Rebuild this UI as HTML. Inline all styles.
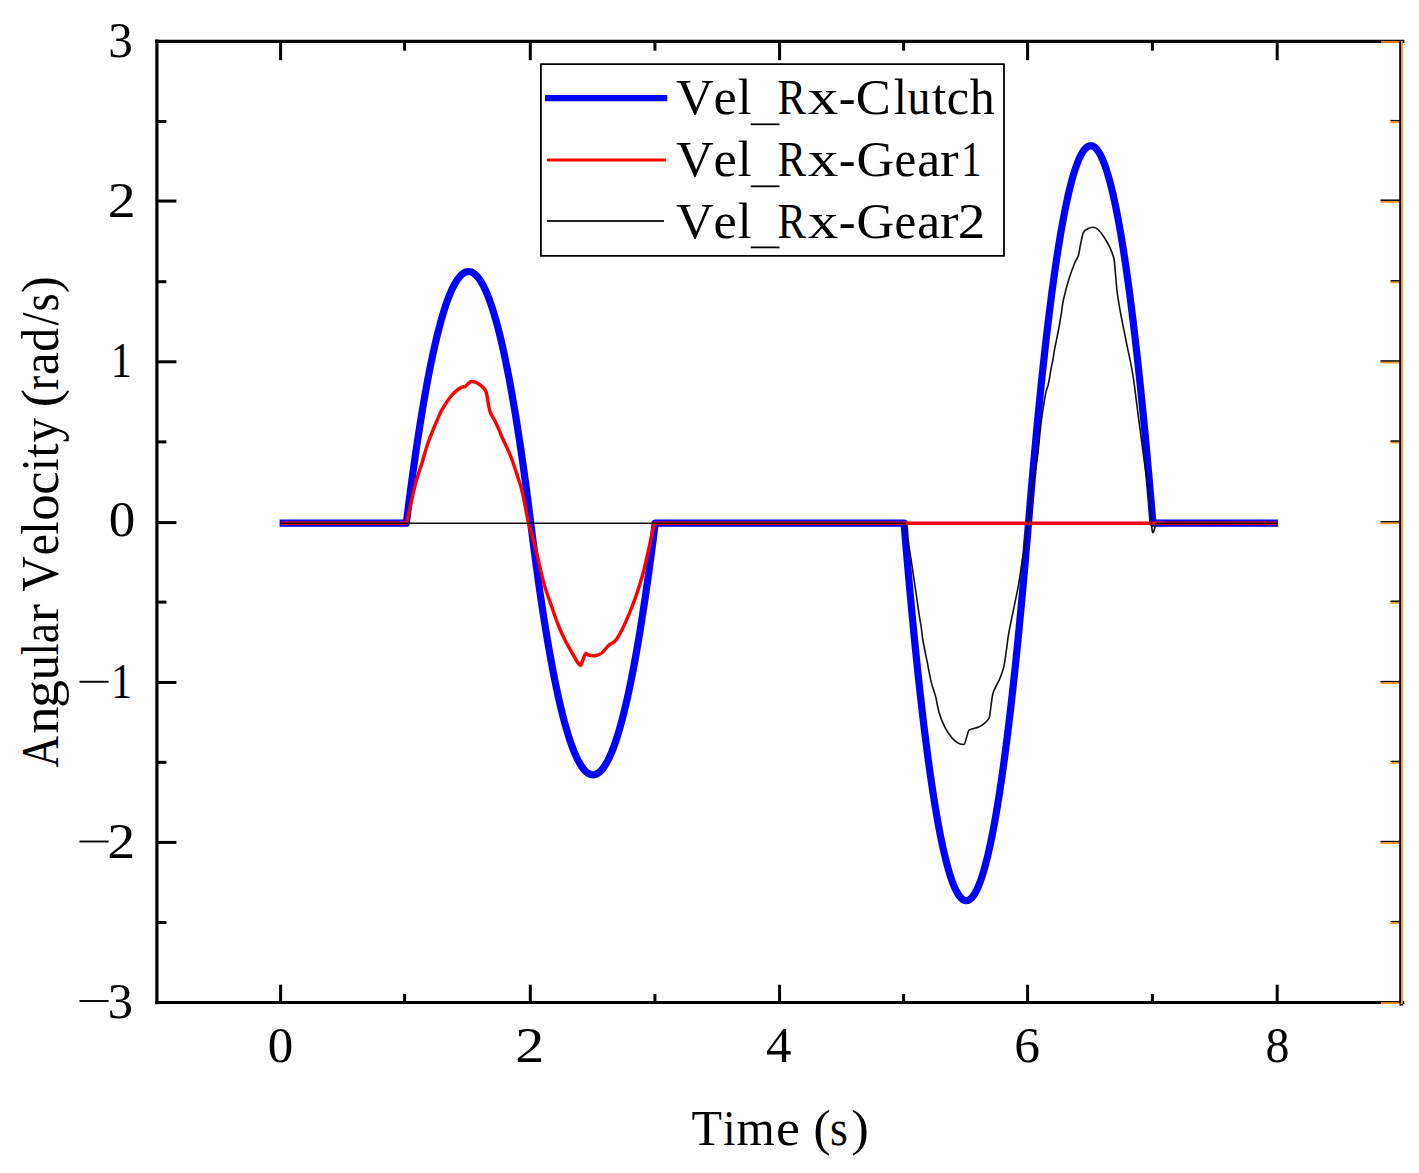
<!DOCTYPE html>
<html><head><meta charset="utf-8"><style>
html,body{margin:0;padding:0;background:#fff;}
svg{display:block;}
text{font-family:"Liberation Serif",serif;fill:#000;}
</style></head><body>
<svg width="1419" height="1173" viewBox="0 0 1419 1173">
<rect width="1419" height="1173" fill="#fff"/>
<g fill="none" stroke-linejoin="round">
<polyline points="279.60,523.20 406.33,523.20 407.57,513.23 408.82,503.47 410.06,493.91 411.31,484.55 412.55,475.39 413.80,466.43 415.04,457.67 416.28,449.12 417.53,440.76 418.77,432.61 420.02,424.66 421.26,416.91 422.51,409.36 423.75,402.01 424.99,394.86 426.24,387.92 427.48,381.17 428.73,374.63 429.97,368.29 431.22,362.15 432.46,356.21 433.70,350.47 434.95,344.94 436.19,339.60 437.44,334.47 438.68,329.54 439.93,324.81 441.17,320.28 442.41,315.95 443.66,311.82 444.90,307.90 446.15,304.17 447.39,300.65 448.64,297.33 449.88,294.21 451.12,291.29 452.37,288.57 453.61,286.05 454.86,283.74 456.10,281.62 457.35,279.71 458.59,278.00 459.83,276.49 461.08,275.18 462.32,274.07 463.57,273.17 464.81,272.46 466.06,271.96 467.30,271.66 468.54,271.56 469.79,271.66 471.03,271.96 472.28,272.46 473.52,273.17 474.77,274.07 476.01,275.18 477.26,276.49 478.50,278.00 479.74,279.71 480.99,281.62 482.23,283.74 483.48,286.05 484.72,288.57 485.97,291.29 487.21,294.21 488.45,297.33 489.70,300.65 490.94,304.17 492.19,307.90 493.43,311.82 494.68,315.95 495.92,320.28 497.16,324.81 498.41,329.54 499.65,334.47 500.90,339.60 502.14,344.94 503.39,350.47 504.63,356.21 505.87,362.15 507.12,368.29 508.36,374.63 509.61,381.17 510.85,387.92 512.10,394.86 513.34,402.01 514.58,409.36 515.83,416.91 517.07,424.66 518.32,432.61 519.56,440.76 520.81,449.12 522.05,457.67 523.29,466.43 524.54,475.39 525.78,484.55 527.03,493.91 528.27,503.47 529.52,513.23 530.76,523.20 532.00,533.17 533.25,542.93 534.49,552.49 535.74,561.85 536.98,571.01 538.23,579.97 539.47,588.73 540.71,597.28 541.96,605.64 543.20,613.79 544.45,621.74 545.69,629.49 546.94,637.04 548.18,644.39 549.42,651.54 550.67,658.48 551.91,665.23 553.16,671.77 554.40,678.11 555.65,684.25 556.89,690.19 558.13,695.93 559.38,701.46 560.62,706.80 561.87,711.93 563.11,716.86 564.36,721.59 565.60,726.12 566.84,730.45 568.09,734.58 569.33,738.50 570.58,742.23 571.82,745.75 573.07,749.07 574.31,752.19 575.55,755.11 576.80,757.83 578.04,760.35 579.29,762.66 580.53,764.78 581.78,766.69 583.02,768.40 584.26,769.91 585.51,771.22 586.75,772.33 588.00,773.23 589.24,773.94 590.49,774.44 591.73,774.74 592.98,774.84 594.22,774.74 595.46,774.44 596.71,773.94 597.95,773.23 599.20,772.33 600.44,771.22 601.69,769.91 602.93,768.40 604.17,766.69 605.42,764.78 606.66,762.66 607.91,760.35 609.15,757.83 610.40,755.11 611.64,752.19 612.88,749.07 614.13,745.75 615.37,742.23 616.62,738.50 617.86,734.58 619.11,730.45 620.35,726.12 621.59,721.59 622.84,716.86 624.08,711.93 625.33,706.80 626.57,701.46 627.82,695.93 629.06,690.19 630.30,684.25 631.55,678.11 632.79,671.77 634.04,665.23 635.28,658.48 636.53,651.54 637.77,644.39 639.01,637.04 640.26,629.49 641.50,621.74 642.75,613.79 643.99,605.64 645.24,597.28 646.48,588.73 647.72,579.97 648.97,571.01 650.21,561.85 651.46,552.49 652.70,542.93 653.95,533.17 655.19,523.20 904.05,523.20 905.29,538.15 906.54,552.79 907.78,567.14 909.03,581.18 910.27,594.92 911.52,608.36 912.76,621.49 914.00,634.32 915.25,646.86 916.49,659.09 917.74,671.01 918.98,682.64 920.23,693.96 921.47,704.99 922.71,715.71 923.96,726.12 925.20,736.24 926.45,746.05 927.69,755.57 928.94,764.78 930.18,773.68 931.42,782.29 932.67,790.59 933.91,798.60 935.16,806.30 936.40,813.70 937.65,820.79 938.89,827.59 940.13,834.08 941.38,840.27 942.62,846.16 943.87,851.74 945.11,857.03 946.36,862.01 947.60,866.69 948.84,871.07 950.09,875.15 951.33,878.92 952.58,882.39 953.82,885.56 955.07,888.43 956.31,891.00 957.55,893.26 958.80,895.23 960.04,896.89 961.29,898.25 962.53,899.30 963.78,900.06 965.02,900.51 966.26,900.66 967.51,900.51 968.75,900.06 970.00,899.30 971.24,898.25 972.49,896.89 973.73,895.23 974.98,893.26 976.22,891.00 977.46,888.43 978.71,885.56 979.95,882.39 981.20,878.92 982.44,875.15 983.69,871.07 984.93,866.69 986.17,862.01 987.42,857.03 988.66,851.74 989.91,846.16 991.15,840.27 992.40,834.08 993.64,827.59 994.88,820.79 996.13,813.70 997.37,806.30 998.62,798.60 999.86,790.59 1001.11,782.29 1002.35,773.68 1003.59,764.78 1004.84,755.57 1006.08,746.05 1007.33,736.24 1008.57,726.12 1009.82,715.71 1011.06,704.99 1012.30,693.96 1013.55,682.64 1014.79,671.01 1016.04,659.09 1017.28,646.86 1018.53,634.32 1019.77,621.49 1021.01,608.36 1022.26,594.92 1023.50,581.18 1024.75,567.14 1025.99,552.79 1027.24,538.15 1028.48,523.20 1029.72,508.25 1030.97,493.61 1032.21,479.26 1033.46,465.22 1034.70,451.48 1035.95,438.04 1037.19,424.91 1038.43,412.08 1039.68,399.54 1040.92,387.31 1042.17,375.39 1043.41,363.76 1044.66,352.44 1045.90,341.41 1047.14,330.69 1048.39,320.28 1049.63,310.16 1050.88,300.35 1052.12,290.83 1053.37,281.62 1054.61,272.72 1055.85,264.11 1057.10,255.81 1058.34,247.80 1059.59,240.10 1060.83,232.70 1062.08,225.61 1063.32,218.81 1064.56,212.32 1065.81,206.13 1067.05,200.24 1068.30,194.66 1069.54,189.37 1070.79,184.39 1072.03,179.71 1073.27,175.33 1074.52,171.25 1075.76,167.48 1077.01,164.01 1078.25,160.84 1079.50,157.97 1080.74,155.40 1081.98,153.14 1083.23,151.17 1084.47,149.51 1085.72,148.15 1086.96,147.10 1088.21,146.34 1089.45,145.89 1090.70,145.74 1091.94,145.89 1093.18,146.34 1094.43,147.10 1095.67,148.15 1096.92,149.51 1098.16,151.17 1099.41,153.14 1100.65,155.40 1101.89,157.97 1103.14,160.84 1104.38,164.01 1105.63,167.48 1106.87,171.25 1108.12,175.33 1109.36,179.71 1110.60,184.39 1111.85,189.37 1113.09,194.66 1114.34,200.24 1115.58,206.13 1116.83,212.32 1118.07,218.81 1119.31,225.61 1120.56,232.70 1121.80,240.10 1123.05,247.80 1124.29,255.81 1125.54,264.11 1126.78,272.72 1128.02,281.62 1129.27,290.83 1130.51,300.35 1131.76,310.16 1133.00,320.28 1134.25,330.69 1135.49,341.41 1136.73,352.44 1137.98,363.76 1139.22,375.39 1140.47,387.31 1141.71,399.54 1142.96,412.08 1144.20,424.91 1145.44,438.04 1146.69,451.48 1147.93,465.22 1149.18,479.26 1150.42,493.61 1151.67,508.25 1152.91,523.20 1278.00,523.20" stroke="#0000ff" stroke-width="7.2" stroke-linecap="butt"/>
<path d="M281.0,523.20 L405.83,523.20 L406.60,523.00 C407.27,519.97 408.97,511.88 410.60,504.80 C412.23,497.72 414.45,487.65 416.40,480.50 C418.35,473.35 420.48,467.82 422.30,461.90 C424.12,455.98 425.62,450.08 427.30,445.00 C428.98,439.92 430.83,435.37 432.40,431.40 C433.97,427.43 435.28,424.47 436.70,421.20 C438.12,417.93 439.35,414.80 440.90,411.80 C442.45,408.80 444.28,405.83 446.00,403.20 C447.72,400.57 449.48,398.05 451.20,396.00 C452.92,393.95 454.60,392.32 456.30,390.90 C458.00,389.48 459.85,388.28 461.40,387.50 C462.95,386.72 464.47,386.85 465.60,386.20 C466.73,385.55 467.20,384.38 468.20,383.60 C469.20,382.82 470.32,381.70 471.60,381.50 C472.88,381.30 474.48,381.83 475.90,382.40 C477.32,382.97 478.53,383.63 480.10,384.90 C481.67,386.17 484.15,388.22 485.30,390.00 C486.45,391.78 486.43,392.97 487.00,395.60 C487.57,398.23 488.13,402.97 488.70,405.80 C489.27,408.63 489.42,410.18 490.40,412.60 C491.38,415.02 493.05,417.17 494.60,420.30 C496.15,423.43 498.48,428.62 499.70,431.40 C500.92,434.18 500.10,432.93 501.90,437.00 C503.70,441.07 507.93,449.40 510.50,455.80 C513.07,462.20 515.32,469.28 517.30,475.40 C519.28,481.52 520.52,484.53 522.40,492.50 C524.28,500.47 526.73,515.20 528.60,523.20 C530.47,531.20 531.85,533.77 533.60,540.50 C535.35,547.23 537.28,556.10 539.10,563.60 C540.92,571.10 542.45,578.45 544.50,585.50 C546.55,592.55 549.12,599.32 551.40,605.90 C553.68,612.48 555.93,619.32 558.20,625.00 C560.47,630.68 562.73,635.45 565.00,640.00 C567.27,644.55 569.33,648.10 571.80,652.30 C574.27,656.50 577.98,663.83 579.80,665.20 C581.62,666.57 581.75,662.43 582.70,660.50 C583.65,658.57 584.58,654.52 585.50,653.60 C586.42,652.68 586.62,654.65 588.20,655.00 C589.78,655.35 592.73,656.03 595.00,655.70 C597.27,655.37 599.53,654.70 601.80,653.00 C604.07,651.30 606.32,647.55 608.60,645.50 C610.88,643.45 613.22,643.43 615.50,640.70 C617.78,637.97 620.03,633.53 622.30,629.10 C624.57,624.67 626.83,619.55 629.10,614.10 C631.37,608.65 633.63,603.00 635.90,596.40 C638.17,589.80 640.65,582.00 642.70,574.50 C644.75,567.00 646.27,559.95 648.20,551.40 C650.13,542.85 653.28,527.90 654.30,523.20 L1277.8,523.20" stroke="#ff0000" stroke-width="3.4" stroke-linecap="butt"/>
<path d="M281.0,523.20 L903.15,523.20 L904.80,523.40 C905.30,526.27 906.80,534.90 907.80,540.60 C908.80,546.30 909.88,551.92 910.80,557.60 C911.72,563.28 912.45,569.00 913.30,574.70 C914.15,580.40 914.97,585.40 915.90,591.80 C916.83,598.20 918.02,607.23 918.90,613.10 C919.78,618.97 920.52,622.35 921.20,627.00 C921.88,631.65 922.02,635.27 923.00,641.00 C923.98,646.73 925.73,654.58 927.10,661.40 C928.47,668.22 929.75,675.92 931.20,681.90 C932.65,687.88 934.48,692.17 935.80,697.30 C937.12,702.43 937.53,707.62 939.10,712.70 C940.67,717.78 943.03,723.58 945.20,727.80 C947.37,732.02 950.05,735.50 952.10,738.00 C954.15,740.50 955.68,741.72 957.50,742.80 C959.32,743.88 961.75,744.50 963.00,744.50 C964.25,744.50 964.10,745.02 965.00,742.80 C965.90,740.58 967.48,733.42 968.40,731.20 C969.32,728.98 968.78,730.18 970.50,729.50 C972.22,728.82 976.43,728.07 978.70,727.10 C980.97,726.13 982.40,725.13 984.10,723.70 C985.80,722.27 987.87,720.55 988.90,718.50 C989.93,716.45 989.82,714.48 990.30,711.40 C990.78,708.32 991.25,703.35 991.80,700.00 C992.35,696.65 992.32,694.73 993.60,691.30 C994.88,687.87 997.82,683.38 999.50,679.40 C1001.18,675.42 1002.53,672.38 1003.70,667.40 C1004.87,662.42 1005.65,655.23 1006.50,649.50 C1007.35,643.77 1007.57,639.95 1008.80,633.00 C1010.03,626.05 1012.25,615.98 1013.90,607.80 C1015.55,599.62 1017.30,591.87 1018.70,583.90 C1020.10,575.93 1021.25,566.27 1022.30,560.00 C1023.35,553.73 1024.25,550.72 1025.00,546.30 C1025.75,541.88 1026.20,537.77 1026.80,533.50 C1027.40,529.23 1028.00,525.82 1028.60,520.70 C1029.20,515.58 1029.80,508.25 1030.40,502.80 C1031.00,497.35 1031.50,492.55 1032.20,488.00 C1032.90,483.45 1033.62,481.57 1034.60,475.50 C1035.58,469.43 1037.12,459.55 1038.10,451.60 C1039.08,443.65 1039.70,434.75 1040.50,427.80 C1041.30,420.85 1042.17,414.95 1042.90,409.90 C1043.63,404.85 1044.33,400.70 1044.90,397.50 C1045.47,394.30 1045.78,392.68 1046.30,390.70 C1046.82,388.72 1047.43,387.88 1048.00,385.60 C1048.57,383.32 1049.13,380.13 1049.70,377.00 C1050.27,373.87 1050.87,369.63 1051.40,366.80 C1051.93,363.97 1052.35,363.03 1052.90,360.00 C1053.45,356.97 1054.05,352.20 1054.70,348.60 C1055.35,345.00 1056.03,342.23 1056.80,338.40 C1057.57,334.57 1058.53,329.87 1059.30,325.60 C1060.07,321.33 1060.72,317.07 1061.40,312.80 C1062.08,308.53 1062.13,305.67 1063.40,300.00 C1064.67,294.33 1067.10,285.00 1069.00,278.80 C1070.90,272.60 1073.23,266.67 1074.80,262.80 C1076.37,258.93 1077.43,258.73 1078.40,255.60 C1079.37,252.47 1079.75,247.87 1080.60,244.00 C1081.45,240.13 1082.30,234.93 1083.50,232.40 C1084.70,229.87 1086.23,229.65 1087.80,228.80 C1089.37,227.95 1091.20,227.18 1092.90,227.30 C1094.60,227.42 1096.18,227.93 1098.00,229.50 C1099.82,231.07 1101.87,233.80 1103.80,236.70 C1105.73,239.60 1107.92,243.27 1109.60,246.90 C1111.28,250.53 1112.93,254.15 1113.90,258.50 C1114.87,262.85 1114.80,266.97 1115.40,273.00 C1116.00,279.03 1116.53,287.47 1117.50,294.70 C1118.47,301.93 1119.62,307.95 1121.20,316.40 C1122.78,324.85 1125.07,335.73 1127.00,345.40 C1128.93,355.07 1130.78,361.60 1132.80,374.40 C1134.82,387.20 1137.12,407.22 1139.10,422.20 C1141.08,437.18 1142.95,451.42 1144.70,464.30 C1146.45,477.18 1148.32,488.25 1149.60,499.50 C1150.88,510.75 1151.35,527.82 1152.40,531.80 C1153.45,535.78 1155.32,524.80 1155.90,523.40 L1277.8,523.20" stroke="#111" stroke-width="1.6" stroke-linecap="butt"/>
</g>
<g stroke="#000" stroke-width="3"><line x1="280.60" y1="1002.5" x2="280.60" y2="984.7"/><line x1="280.60" y1="41.3" x2="280.60" y2="60.199999999999996"/><line x1="404.60" y1="1002.5" x2="404.60" y2="993.9"/><line x1="404.60" y1="41.3" x2="404.60" y2="50.699999999999996"/><line x1="530.30" y1="1002.5" x2="530.30" y2="984.7"/><line x1="530.30" y1="41.3" x2="530.30" y2="60.199999999999996"/><line x1="654.95" y1="1002.5" x2="654.95" y2="993.9"/><line x1="654.95" y1="41.3" x2="654.95" y2="50.699999999999996"/><line x1="779.60" y1="1002.5" x2="779.60" y2="984.7"/><line x1="779.60" y1="41.3" x2="779.60" y2="60.199999999999996"/><line x1="903.60" y1="1002.5" x2="903.60" y2="993.9"/><line x1="903.60" y1="41.3" x2="903.60" y2="50.699999999999996"/><line x1="1027.60" y1="1002.5" x2="1027.60" y2="984.7"/><line x1="1027.60" y1="41.3" x2="1027.60" y2="60.199999999999996"/><line x1="1152.40" y1="1002.5" x2="1152.40" y2="993.9"/><line x1="1152.40" y1="41.3" x2="1152.40" y2="50.699999999999996"/><line x1="1277.20" y1="1002.5" x2="1277.20" y2="984.7"/><line x1="1277.20" y1="41.3" x2="1277.20" y2="60.199999999999996"/><line x1="156.9" y1="922.50" x2="166.4" y2="922.50"/><line x1="156.9" y1="842.40" x2="176.4" y2="842.40"/><line x1="156.9" y1="762.30" x2="166.4" y2="762.30"/><line x1="156.9" y1="682.45" x2="176.4" y2="682.45"/><line x1="156.9" y1="602.10" x2="166.4" y2="602.10"/><line x1="156.9" y1="522.60" x2="176.4" y2="522.60"/><line x1="156.9" y1="441.90" x2="166.4" y2="441.90"/><line x1="156.9" y1="361.80" x2="176.4" y2="361.80"/><line x1="156.9" y1="281.70" x2="166.4" y2="281.70"/><line x1="156.9" y1="201.05" x2="176.4" y2="201.05"/><line x1="156.9" y1="121.50" x2="166.4" y2="121.50"/></g>
<rect x="1390.50" y="920.90" width="9.50" height="1.6" fill="#000"/><rect x="1390.50" y="922.50" width="9.50" height="1.6" fill="#f7941d"/><rect x="1380.50" y="840.80" width="19.50" height="1.6" fill="#000"/><rect x="1380.50" y="842.40" width="19.50" height="1.6" fill="#f7941d"/><rect x="1390.50" y="760.70" width="9.50" height="1.6" fill="#000"/><rect x="1390.50" y="762.30" width="9.50" height="1.6" fill="#f7941d"/><rect x="1380.50" y="680.85" width="19.50" height="1.6" fill="#000"/><rect x="1380.50" y="682.45" width="19.50" height="1.6" fill="#f7941d"/><rect x="1390.50" y="600.50" width="9.50" height="1.6" fill="#000"/><rect x="1390.50" y="602.10" width="9.50" height="1.6" fill="#f7941d"/><rect x="1380.50" y="521.00" width="19.50" height="1.6" fill="#000"/><rect x="1380.50" y="522.60" width="19.50" height="1.6" fill="#f7941d"/><rect x="1390.50" y="440.30" width="9.50" height="1.6" fill="#000"/><rect x="1390.50" y="441.90" width="9.50" height="1.6" fill="#f7941d"/><rect x="1380.50" y="360.20" width="19.50" height="1.6" fill="#000"/><rect x="1380.50" y="361.80" width="19.50" height="1.6" fill="#f7941d"/><rect x="1390.50" y="280.10" width="9.50" height="1.6" fill="#000"/><rect x="1390.50" y="281.70" width="9.50" height="1.6" fill="#f7941d"/><rect x="1380.50" y="199.45" width="19.50" height="1.6" fill="#000"/><rect x="1380.50" y="201.05" width="19.50" height="1.6" fill="#f7941d"/><rect x="1390.50" y="119.90" width="9.50" height="1.6" fill="#000"/><rect x="1390.50" y="121.50" width="9.50" height="1.6" fill="#f7941d"/>
<g fill="none" stroke="#000">
<line x1="156.9" y1="39.599999999999994" x2="156.9" y2="1004.2" stroke-width="3.2"/>
<line x1="155.3" y1="41.3" x2="1404.3" y2="41.3" stroke-width="3.3"/>
<line x1="155.3" y1="1002.5" x2="1404.3" y2="1002.5" stroke-width="3.1"/>

</g>
<rect x="1381" y="41.1" width="20.5" height="1.7" fill="#f7941d"/>
<rect x="1381" y="1002.2" width="21.5" height="1.8" fill="#f7941d"/>
<rect x="1399.4" y="1004.0" width="3.4" height="1.6" fill="#000"/>
<rect x="1399.2" y="41.1" width="1.8" height="962.5" fill="#000"/>
<rect x="1401.0" y="41.1" width="1.9" height="962.5" fill="#f7941d"/>
<text transform="translate(120.85,56.50) scale(0.9828,1)" x="-12.72" font-size="50">3</text><text transform="translate(121.30,216.80) scale(1.1175,1)" x="-12.22" font-size="50">2</text><text transform="translate(121.95,376.80) scale(0.8465,1)" x="-13.20" font-size="50">1</text><text transform="translate(121.95,536.30) scale(1.0618,1)" x="-12.50" font-size="50">0</text><text transform="translate(122.20,698.25) scale(0.8521,1)" x="-13.20" font-size="50">1</text><text transform="translate(121.05,858.00) scale(1.1225,1)" x="-12.22" font-size="50">2</text><text transform="translate(120.60,1017.50) scale(1.0071,1)" x="-12.72" font-size="50">3</text><rect x="79.5" y="680.80" width="29.1" height="1.9" fill="#000"/><rect x="79.5" y="840.55" width="29.1" height="1.9" fill="#000"/><rect x="79.5" y="1000.05" width="29.1" height="1.9" fill="#000"/><text transform="translate(280.50,1062.40) scale(1.0193,1)" x="-12.50" font-size="50">0</text><text transform="translate(529.55,1062.40) scale(1.1624,1)" x="-12.22" font-size="50">2</text><text transform="translate(778.85,1062.40) scale(1.0197,1)" x="-12.60" font-size="50">4</text><text transform="translate(1027.50,1062.40) scale(1.0299,1)" x="-12.83" font-size="50">6</text><text transform="translate(1277.35,1062.40) scale(0.9579,1)" x="-12.50" font-size="50">8</text><text transform="translate(706.80,1144.60) scale(0.9997,1)" x="-15.31" font-size="50">T</text><text transform="translate(729.30,1144.60) scale(0.8747,1)" x="-6.99" font-size="50">i</text><text transform="translate(755.65,1144.60) scale(0.9849,1)" x="-19.58" font-size="50">m</text><text transform="translate(788.00,1144.60) scale(1.0807,1)" x="-11.21" font-size="50">e</text><text transform="translate(822.25,1144.60) scale(1.0513,1)" x="-8.62" font-size="50">(</text><text transform="translate(839.05,1144.60) scale(0.9166,1)" x="-9.85" font-size="50">s</text><text transform="translate(859.70,1144.60) scale(1.0590,1)" x="-8.03" font-size="50">)</text><text transform="translate(57.50,751.75) rotate(-90) scale(0.8751,1.0400)" x="-18.14" font-size="50.08">A</text><text transform="translate(57.50,719.85) rotate(-90) scale(1.0937,1.0400)" x="-12.72" font-size="50.08">n</text><text transform="translate(57.50,693.45) rotate(-90) scale(1.1170,1.0400)" x="-13.12" font-size="50.08">g</text><text transform="translate(57.50,667.75) rotate(-90) scale(1.0075,1.0400)" x="-12.42" font-size="50.08">u</text><text transform="translate(57.50,649.20) rotate(-90) scale(0.8565,1.0400)" x="-6.96" font-size="50.08">l</text><text transform="translate(57.50,632.65) rotate(-90) scale(0.9149,1.0400)" x="-11.65" font-size="50.08">a</text><text transform="translate(57.50,612.90) rotate(-90) scale(1.0896,1.0400)" x="-8.62" font-size="50.08">r</text><text transform="translate(57.50,574.00) rotate(-90) scale(0.9703,1.0400)" x="-18.08" font-size="50.08">V</text><text transform="translate(57.50,544.70) rotate(-90) scale(0.9495,1.0400)" x="-11.22" font-size="50.08">e</text><text transform="translate(57.50,527.95) rotate(-90) scale(0.9657,1.0400)" x="-6.96" font-size="50.08">l</text><text transform="translate(57.50,507.50) rotate(-90) scale(1.0553,1.0400)" x="-12.52" font-size="50.08">o</text><text transform="translate(57.50,482.95) rotate(-90) scale(1.0490,1.0400)" x="-11.30" font-size="50.08">c</text><text transform="translate(57.50,464.60) rotate(-90) scale(0.9069,1.0400)" x="-7.01" font-size="50.08">i</text><text transform="translate(57.50,450.40) rotate(-90) scale(1.0357,1.0400)" x="-7.05" font-size="50.08">t</text><text transform="translate(57.50,429.95) rotate(-90) scale(0.9698,1.0400)" x="-12.73" font-size="50.08">y</text><text transform="translate(57.50,397.90) rotate(-90) scale(1.1195,1.0400)" x="-8.63" font-size="50.08">(</text><text transform="translate(57.50,382.70) rotate(-90) scale(0.8533,1.0400)" x="-8.62" font-size="50.08">r</text><text transform="translate(57.50,363.10) rotate(-90) scale(1.0211,1.0400)" x="-11.65" font-size="50.08">a</text><text transform="translate(57.50,339.20) rotate(-90) scale(0.9549,1.0400)" x="-13.12" font-size="50.08">d</text><text transform="translate(57.50,318.90) rotate(-90) scale(0.9343,1.0400)" x="-6.96" font-size="50.08">/</text><text transform="translate(57.50,302.25) rotate(-90) scale(0.9280,1.0400)" x="-9.87" font-size="50.08">s</text><text transform="translate(57.50,284.85) rotate(-90) scale(1.0029,1.0400)" x="-8.05" font-size="50.08">)</text>
<rect x="540.9" y="64.1" width="463.1" height="191.8" fill="none" stroke="#000" stroke-width="1.8" stroke-linejoin="round"/>
<line x1="545" y1="98.1" x2="667.3" y2="98.1" stroke="#0000ff" stroke-width="6.3"/>
<line x1="546.9" y1="160" x2="665.9" y2="160" stroke="#ff0000" stroke-width="3.2"/>
<line x1="546.9" y1="221" x2="664" y2="221" stroke="#222" stroke-width="2"/>
<text transform="translate(694.80,113.80) scale(1.0462,1)" x="-18.05" font-size="50">V</text><text transform="translate(725.20,113.80) scale(1.0483,1)" x="-11.21" font-size="50">e</text><text transform="translate(744.60,113.80) scale(0.9925,1)" x="-6.95" font-size="50">l</text><text transform="translate(792.40,113.80) scale(0.8544,1)" x="-17.36" font-size="50">R</text><text transform="translate(822.85,113.80) scale(1.2234,1)" x="-12.41" font-size="50">x</text><text transform="translate(847.25,113.80) scale(1.0086,1)" x="-8.35" font-size="50">-</text><text transform="translate(873.00,113.80) scale(1.0512,1)" x="-16.32" font-size="50">C</text><text transform="translate(900.30,113.80) scale(0.9588,1)" x="-6.95" font-size="50">l</text><text transform="translate(918.95,113.80) scale(0.9154,1)" x="-12.40" font-size="50">u</text><text transform="translate(939.20,113.80) scale(1.0373,1)" x="-7.04" font-size="50">t</text><text transform="translate(958.10,113.80) scale(1.0027,1)" x="-11.28" font-size="50">c</text><text transform="translate(982.10,113.80) scale(0.9978,1)" x="-12.41" font-size="50">h</text><text transform="translate(694.80,175.70) scale(1.0462,1)" x="-18.05" font-size="50">V</text><text transform="translate(725.20,175.70) scale(1.0483,1)" x="-11.21" font-size="50">e</text><text transform="translate(744.60,175.70) scale(0.9925,1)" x="-6.95" font-size="50">l</text><text transform="translate(792.40,175.70) scale(0.8544,1)" x="-17.36" font-size="50">R</text><text transform="translate(822.85,175.70) scale(1.2234,1)" x="-12.41" font-size="50">x</text><text transform="translate(847.25,175.70) scale(1.0086,1)" x="-8.35" font-size="50">-</text><text transform="translate(875.65,175.70) scale(1.0432,1)" x="-18.30" font-size="50">G</text><text transform="translate(905.55,175.70) scale(0.9781,1)" x="-11.21" font-size="50">e</text><text transform="translate(929.20,175.70) scale(1.0329,1)" x="-11.63" font-size="50">a</text><text transform="translate(949.50,175.70) scale(1.1177,1)" x="-8.61" font-size="50">r</text><text transform="translate(971.80,175.70) scale(0.8067,1)" x="-13.20" font-size="50">1</text><text transform="translate(694.80,237.60) scale(1.0462,1)" x="-18.05" font-size="50">V</text><text transform="translate(725.20,237.60) scale(1.0483,1)" x="-11.21" font-size="50">e</text><text transform="translate(744.60,237.60) scale(0.9925,1)" x="-6.95" font-size="50">l</text><text transform="translate(792.40,237.60) scale(0.8544,1)" x="-17.36" font-size="50">R</text><text transform="translate(822.85,237.60) scale(1.2234,1)" x="-12.41" font-size="50">x</text><text transform="translate(847.25,237.60) scale(1.0086,1)" x="-8.35" font-size="50">-</text><text transform="translate(875.65,237.60) scale(1.0432,1)" x="-18.30" font-size="50">G</text><text transform="translate(905.55,237.60) scale(0.9781,1)" x="-11.21" font-size="50">e</text><text transform="translate(929.20,237.60) scale(1.0329,1)" x="-11.63" font-size="50">a</text><text transform="translate(949.50,237.60) scale(1.1177,1)" x="-8.61" font-size="50">r</text><text transform="translate(971.25,237.60) scale(1.1026,1)" x="-12.22" font-size="50">2</text><rect x="750.7" y="123.40" width="28.8" height="1.8" fill="#000"/><rect x="750.7" y="185.40" width="28.8" height="1.8" fill="#000"/><rect x="750.7" y="246.50" width="28.8" height="1.8" fill="#000"/>
</svg>
</body></html>
